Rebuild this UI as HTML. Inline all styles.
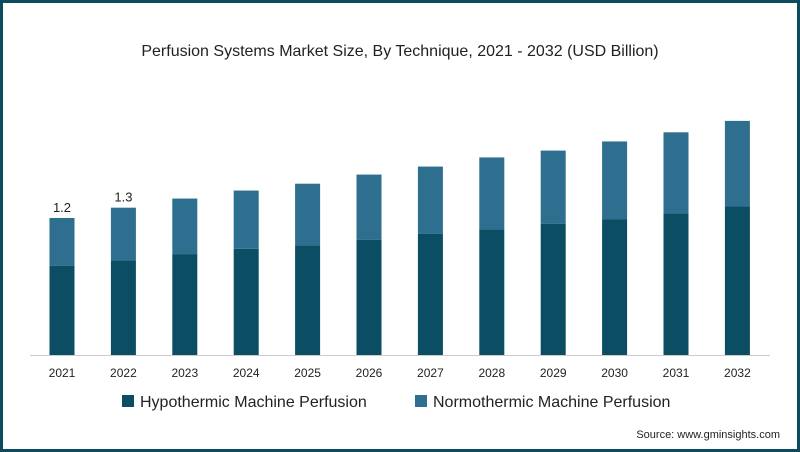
<!DOCTYPE html>
<html><head><meta charset="utf-8"><style>
body{margin:0;width:800px;height:452px;overflow:hidden;background:#fff;font-family:"Liberation Sans",sans-serif}
#frame{position:absolute;left:0;top:0;width:794px;height:446px;border:3px solid #0d4a5e;}
</style></head><body>
<div id="frame"></div>
<svg id="chart" width="800" height="452" style="position:absolute;left:0;top:0">
<text x="400" y="56" text-anchor="middle" font-size="16" fill="#222">Perfusion Systems Market Size, By Technique, 2021 - 2032 (USD Billion)</text>
<line x1="30" y1="355.5" x2="770" y2="355.5" stroke="#ccc"/>
<g id="bars"></g>
<rect x="122" y="395" width="12" height="12" fill="#0b4d63"/>
<text x="140" y="407" font-size="16" fill="#222">Hypothermic Machine Perfusion</text>
<rect x="415" y="395" width="12" height="12" fill="#2e6e8e"/>
<text x="433" y="407" font-size="16" fill="#222">Normothermic Machine Perfusion</text>
<text x="780" y="438" text-anchor="end" font-size="11" fill="#222">Source: www.gminsights.com</text>
</svg>
<script>
const years=["2021","2022","2023","2024","2025","2026","2027","2028","2029","2030","2031","2032"];
const hypo=[0.78,0.83,0.88,0.93,0.96,1.01,1.06,1.10,1.15,1.19,1.24,1.30];
const normo=[0.42,0.46,0.49,0.51,0.54,0.57,0.59,0.63,0.64,0.68,0.71,0.75];
const labels=["1.2","1.3","","","","","","","","","",""];
const ns="http://www.w3.org/2000/svg";
const g=document.getElementById('bars');
const base=355,scale=114.2,bw=25;
const xc=i=>62+i*61.4;
const y=v=>base-v*scale;
function mk(t,a){const e=document.createElementNS(ns,t);for(const k in a)e.setAttribute(k,a[k]);g.appendChild(e);return e;}
years.forEach((yr,i)=>{
 const h=mk('rect',{x:xc(i)-bw/2,y:y(hypo[i]),width:bw,height:hypo[i]*scale,fill:'#0b4d63'});
 
 
 const n=mk('rect',{x:xc(i)-bw/2,y:y(hypo[i]+normo[i]),width:bw,height:normo[i]*scale,fill:'#2e6e8e'});
 
 
 const t=mk('text',{x:xc(i),y:377,'text-anchor':'middle','font-size':12,fill:'#222'});
 t.textContent=yr;
 
 
 if(labels[i]){const l=mk('text',{x:xc(i),y:y(hypo[i]+normo[i])-6,'text-anchor':'middle','font-size':13,fill:'#222'});
 l.textContent=labels[i];
 
 }
});
</script>
</body></html>
